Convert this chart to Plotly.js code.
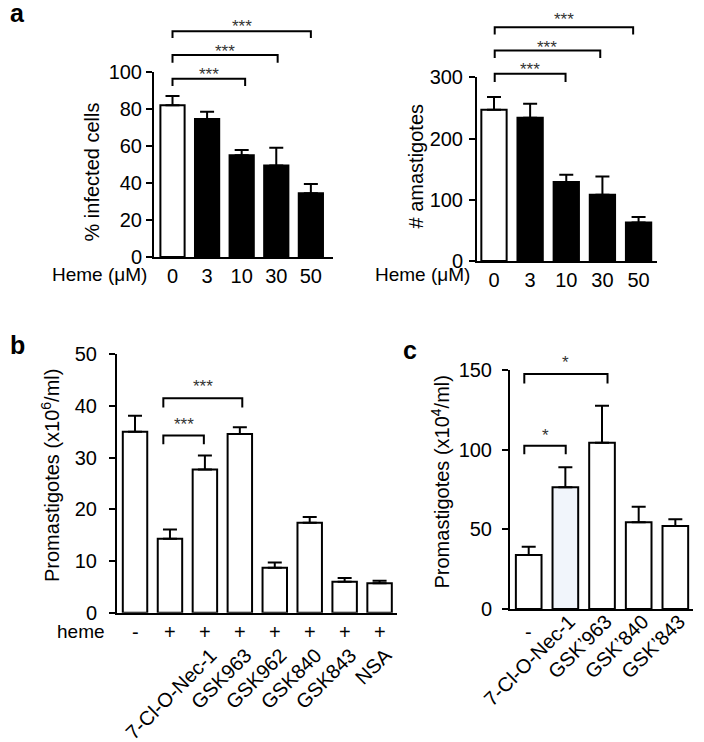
<!DOCTYPE html>
<html><head><meta charset="utf-8">
<script src="https://cdn.plot.ly/plotly-3.0.1.min.js"></script>
<style>html,body{margin:0;padding:0;background:#fff}#chart{width:704px;height:742px}</style>
</head><body><div id="chart"></div>
<script>
// ---------------- data ----------------
const hemeDoses = ['0', '3', '10', '30', '50'];
const infectedPct = [82, 74.6, 55, 49.4, 34.4];
const infectedErr = [5, 3.9, 2.8, 9.6, 5.1];
const amastigotes = [247, 234, 129, 108, 63];
const amastigotesErr = [21, 23, 12, 30, 9];

const bHeme = ['-', '+', '+', '+', '+', '+', '+', '+'];
const bInhibitors = ['', '', '7-Cl-O-Nec-1', 'GSK963', 'GSK962', 'GSK840', 'GSK843', 'NSA'];
const bPromast = [35.0, 14.3, 27.7, 34.6, 8.7, 17.4, 6.0, 5.7];
const bPromastErr = [3.1, 1.8, 2.7, 1.3, 1.0, 1.1, 0.7, 0.5];

const cFirst = ['-'];
const cInhibitors = ['', '7-Cl-O-Nec-1', 'GSK\u2019963', 'GSK\u2019840', 'GSK\u2019843'];
const cPromast = [33.9, 76.4, 104.4, 54.4, 52.1];
const cPromastErr = [5.2, 12.6, 23.2, 9.8, 4.2];

// significance brackets: [from, to, text]
const aLeftSig = [[0, 2, '***'], [0, 3, '***'], [0, 4, '***']];
const aRightSig = [[0, 2, '***'], [0, 3, '***'], [0, 4, '***']];
const bSig = [[1, 2, '***'], [1, 3, '***']];
const cSig = [[0, 1, '*'], [0, 2, '*']];

// ---------------- layout helpers ----------------
const W = 704, H = 742;
const FONT = 'Liberation Sans, Arial, Helvetica, sans-serif';
const FS = 20;
const hd = (a, b) => [a / W, b / W];
const vd = (top, bottom) => [1 - bottom / H, 1 - top / H];

const panels = [
  { xid: 'x', yid: 'y', xd: hd(154, 333), yd: vd(72, 257), xr: [-0.535, 4.64], yr: [0, 100], yt: [0, 20, 40, 60, 80, 100],
    y: infectedPct, e: infectedErr, fill: ['#fff', '#000', '#000', '#000', '#000'], ticks: hemeDoses, angle: 0,
    xso: 0, xsh: 0, yso: 0,
    sig: aLeftSig, ends: [0, 2.1, 3.04, 4.0],
    lv: [96.4, 109.2, 122], dr: [92.4, 105, 118.4], st: [100.7, 113, 127] },
  { xid: 'x2', yid: 'y2', xd: hd(477, 657), yd: vd(77.3, 261), xr: [-0.47, 4.51], yr: [0, 300], yt: [0, 100, 200, 300],
    y: amastigotes, e: amastigotesErr, fill: ['#fff', '#000', '#000', '#000', '#000'], ticks: hemeDoses, angle: 0,
    xso: 0, xsh: 0, yso: 2,
    sig: aRightSig, ends: [0.02, 1.98, 2.94, 3.85],
    lv: [305.6, 343.6, 381.9], dr: [292.5, 331.7, 369.8], st: [319, 355.7, 400.3] },
  { xid: 'x3', yid: 'y3', xd: hd(117, 396.7), yd: vd(354.3, 612.7), xr: [-0.516, 7.49], yr: [0, 50], yt: [0, 10, 20, 30, 40, 50],
    y: bPromast, e: bPromastErr, fill: bPromast.map(() => '#fff'), ticks: bInhibitors, angle: -45,
    xso: 21, xsh: 6, yso: 8,
    sig: bSig, ends: [0.81, 1.97, 3.07],
    lv: [34.3, 41.5], dr: [32.6, 39.7], st: [37.1, 44.5] },
  { xid: 'x4', yid: 'y4', xd: hd(510, 693.3), yd: vd(370, 609), xr: [-0.51, 4.49], yr: [0, 150], yt: [0, 50, 100, 150],
    y: cPromast, e: cPromastErr, fill: ['#fff', '#f1f5fb', '#fff', '#fff', '#fff'], ticks: cInhibitors, angle: -45,
    xso: -9, xsh: 4, yso: 6,
    sig: cSig, ends: [-0.12, 1.01, 2.15],
    lv: [102.5, 147.5], dr: [97.1, 141.6], st: [111.3, 157] }
];

function toPX(p, v) { return p.xd[0] + (v - p.xr[0]) / (p.xr[1] - p.xr[0]) * (p.xd[1] - p.xd[0]); }
function toPY(p, v) { return p.yd[0] + (v - p.yr[0]) / (p.yr[1] - p.yr[0]) * (p.yd[1] - p.yd[0]); }

const traces = [];
const layout = {
  width: W, height: H, margin: { l: 0, r: 0, t: 0, b: 0 }, showlegend: false,
  paper_bgcolor: '#fff', plot_bgcolor: '#fff', font: { family: FONT, size: FS, color: '#000' },
  shapes: [], annotations: []
};

panels.forEach((p, k) => {
  const idx = p.y.map((_, i) => i);
  const labelled = idx.filter(i => p.ticks[i] !== '');
  traces.push({
    type: 'bar', x: idx, y: p.y, xaxis: p.xid, yaxis: p.yid, width: 0.7,
    marker: { color: p.fill, line: { color: '#000', width: 2 } },
    error_y: { type: 'data', symmetric: false, array: p.e, arrayminus: p.e.map(() => 0), color: '#000', thickness: 2, width: 7 },
    hoverinfo: 'skip'
  });
  const sfx = k === 0 ? '' : String(k + 1);
  layout['xaxis' + sfx] = {
    domain: p.xd, range: p.xr, anchor: p.yid, tickvals: labelled, ticktext: labelled.map(i => p.ticks[i]), tickangle: p.angle,
    ticks: '', showline: true, linewidth: 2, linecolor: '#000', showgrid: false, zeroline: false,
    tickfont: { family: FONT, size: FS, color: '#000' }, fixedrange: true,
    ticklabelstandoff: p.xso, ticklabelshift: p.xsh
  };
  layout['yaxis' + sfx] = {
    domain: p.yd, range: p.yr, anchor: p.xid, tickvals: p.yt, ticks: 'outside', ticklen: 6, tickwidth: 2,
    tickcolor: '#000', showline: true, linewidth: 2, linecolor: '#000', showgrid: false, zeroline: false,
    tickfont: { family: FONT, size: FS, color: '#000' }, fixedrange: true, ticklabelstandoff: p.yso
  };
  // significance brackets
  p.sig.forEach((s, j) => {
    const x0 = toPX(p, p.ends[0]);
    const x1 = toPX(p, p.ends[j + 1]);
    const yl = toPY(p, p.lv[j]);
    const yd0 = toPY(p, p.dr[j]);
    layout.shapes.push({
      type: 'path', xref: 'paper', yref: 'paper',
      path: `M ${x0},${yd0} L ${x0},${yl} L ${x1},${yl} L ${x1},${yd0}`,
      line: { color: '#000', width: 2 }
    });
    layout.annotations.push({
      xref: 'paper', yref: 'paper', x: (x0 + x1) / 2, y: toPY(p, p.st[j]), yshift: -4,
      text: s[2], showarrow: false, xanchor: 'center', yanchor: 'middle',
      font: { family: FONT, size: 17, color: '#333' }
    });
  });
});

// axis titles
const titles = [
  ['% infected cells', 92, 172.5],
  ['# amastigotes', 415, 166.5],
  ['Promastigotes (x10<sup>6</sup>/ml)', 50, 476],
  ['Promastigotes (x10<sup>4</sup>/ml)', 440, 482.5]
];
titles.forEach(t => layout.annotations.push({
  xref: 'paper', yref: 'paper', x: t[1] / W, y: 1 - t[2] / H, text: t[0], textangle: -90,
  showarrow: false, xanchor: 'center', yanchor: 'middle', font: { family: FONT, size: FS, color: '#000' }
}));

// row labels
const rowLabels = [
  ['Heme (\u03bcM)', 149, 274],
  ['Heme (\u03bcM)', 472, 274],
  ['heme', 106.7, 631.7]
];
rowLabels.forEach(t => layout.annotations.push({
  xref: 'paper', yref: 'paper', x: t[1] / W, y: 1 - t[2] / H, text: t[0], showarrow: false,
  xanchor: 'right', yanchor: 'middle', font: { family: FONT, size: 19, color: '#000' }
}));
bHeme.forEach((h, i) => layout.annotations.push({
  xref: 'x3', yref: 'paper', x: i, y: 1 - 631.7 / H, text: h, showarrow: false,
  xanchor: 'center', yanchor: 'middle', font: { family: FONT, size: FS, color: '#000' }
}));
cFirst.forEach((h, i) => layout.annotations.push({
  xref: 'x4', yref: 'paper', x: i, y: 1 - 631.7 / H, text: h, showarrow: false,
  xanchor: 'center', yanchor: 'middle', font: { family: FONT, size: FS, color: '#000' }
}));

// panel letters
[['a', 17, 13], ['b', 17, 345], ['c', 410, 350]].forEach(t => layout.annotations.push({
  xref: 'paper', yref: 'paper', x: t[1] / W, y: 1 - t[2] / H, text: '<b>' + t[0] + '</b>', showarrow: false,
  xanchor: 'center', yanchor: 'middle', font: { family: FONT, size: 25, color: '#000' }
}));

Plotly.newPlot('chart', traces, layout, { displayModeBar: false, staticPlot: true });
</script>
</body></html>
